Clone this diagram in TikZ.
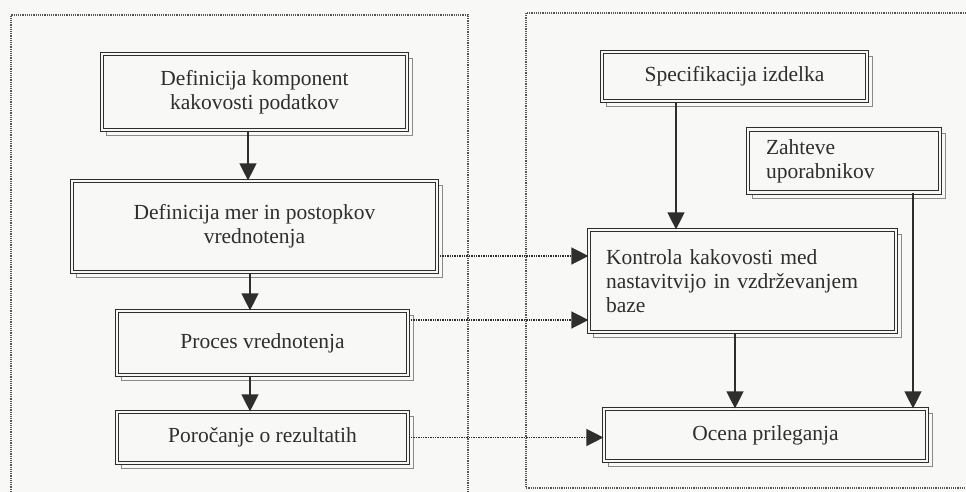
\documentclass[tikz,border=0pt]{standalone}
\usepackage{fontspec}
\setmainfont{Liberation Serif}
\usetikzlibrary{arrows.meta,backgrounds}

\definecolor{ink}{HTML}{2E2E2E}
\definecolor{paper}{HTML}{F8F8F6}
\definecolor{shade}{HTML}{8A8A8A}
\definecolor{framecol}{HTML}{555555}

\tikzset{
  box/.style={draw=ink, line width=1.2pt, double=paper, double distance=2.2pt,
    fill=paper, text=ink, inner sep=0pt, align=center,
    font=\fontsize{21.5}{24}\selectfont},
  boxl/.style={box, align=left, text width=#1},
  arr/.style={draw=ink, line width=1.3pt, -{Triangle[length=17pt,width=17pt]}},
  dotarr/.style={draw=ink, line width=1.4pt, densely dotted, -{Triangle[length=17pt,width=17pt]}},
  panel/.style={draw=framecol, line width=1.2pt, densely dotted},
  shadowline/.style={draw=shade, line width=0.9pt}
}

\begin{document}
\begin{tikzpicture}[x=1pt,y=-1pt]
    \useasboundingbox (0,0) rectangle (966,492);

    \draw[panel] (11,492) -- (11,15) -- (468,15) -- (468,492);
    \draw[panel] (966,13) -- (526,13) -- (526,488) -- (966,488);

    \node[box, minimum width=305pt, minimum height=76pt] (komp) at (254.5,92) {Definicija komponent\\kakovosti podatkov};
    \node[box, minimum width=365pt, minimum height=91pt] (mere) at (254.5,226.5) {Definicija mer in postopkov\\vrednotenja};
    \node[box, minimum width=291pt, minimum height=64pt] (proc) at (262.5,343) {Proces vrednotenja};
    \node[box, minimum width=291pt, minimum height=51pt] (poro) at (262.5,437.5) {Poročanje o rezultatih};

    \node[box, minimum width=265pt, minimum height=49pt] (spec) at (734.5,76.5) {Specifikacija izdelka};
    \node[boxl=156pt, minimum width=192pt, minimum height=63pt] (zaht) at (844,161) {Zahteve\\uporabnikov};
    \node[boxl=273pt, minimum width=307pt, minimum height=102pt] (kont) at (742.5,281) {Kontrola kakovosti med\\nastavitvijo in vzdrževanjem\\baze};
    \node[box, minimum width=323pt, minimum height=52pt] (ocena) at (765.5,435) {Ocena prileganja};

    \begin{scope}[on background layer]
      \fill[paper] (0,0) rectangle (966,492);
      \foreach \n in {komp,mere,proc,poro,spec,zaht,kont,ocena}
        \draw[shadowline] ([shift={(5pt,-5pt)}]\n.south west) rectangle ([shift={(5pt,-5pt)}]\n.north east);
    \end{scope}

    \draw[arr] ([xshift=-6.5pt]komp.south) -- ([xshift=-6.5pt]komp.south |- mere.north);
    \draw[arr] ([xshift=-4.5pt]mere.south) -- ([xshift=-4.5pt]mere.south |- proc.north);
    \draw[arr] ([xshift=-12.5pt]proc.south) -- ([xshift=-12.5pt]proc.south |- poro.north);

    \draw[arr] ([xshift=-58.5pt]spec.south) -- ([xshift=-58.5pt]spec.south |- kont.north);
    \draw[arr] ([xshift=69pt]zaht.south) -- ([xshift=69pt]zaht.south |- ocena.north);
    \draw[arr] ([xshift=-7.5pt]kont.south) -- ([xshift=-7.5pt]kont.south |- ocena.north);

    \draw[dotarr] ([yshift=-29.5pt]mere.east) -- ([yshift=-29.5pt]mere.east -| kont.west);
    \draw[dotarr] ([yshift=23pt]proc.east) -- ([yshift=23pt]proc.east -| kont.west);
    \draw[dotarr] (poro.east) -- (poro.east -| ocena.west);
  \end{tikzpicture}
\end{document}
